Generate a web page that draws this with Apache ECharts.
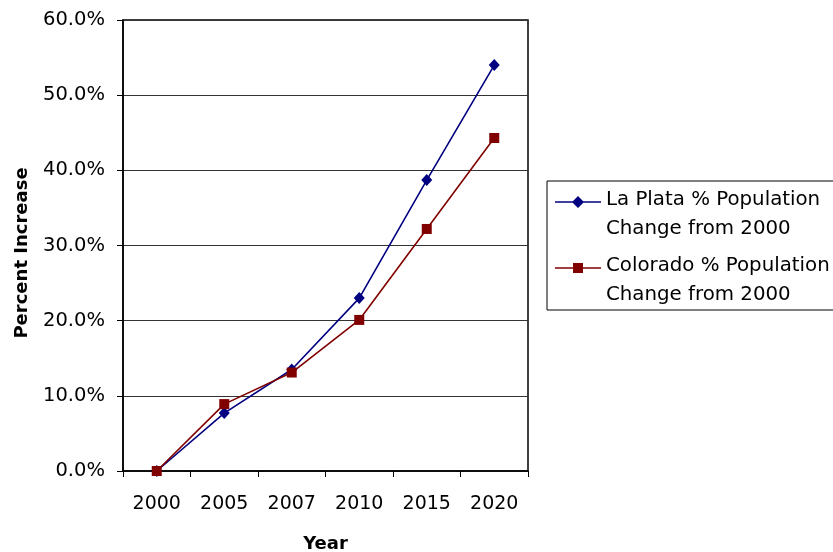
<!DOCTYPE html>
<html>
<head>
<meta charset="utf-8">
<script src="https://cdn.jsdelivr.net/npm/echarts@6/dist/echarts.min.js"></script>
<style>
html, body { margin: 0; padding: 0; background: #fff; }
#chart { width: 833px; height: 552px; }
</style>
</head>
<body>
<div id="chart"></div>
<script>
// data
var years = ['2000', '2005', '2007', '2010', '2015', '2020'];
var laPlata = [0.0, 7.7, 13.5, 23.0, 38.7, 54.0];
var colorado = [0.0, 8.9, 13.1, 20.1, 32.2, 44.3];
var seriesNames = ['La Plata % Population Change from 2000', 'Colorado % Population Change from 2000'];

var font = 'DejaVu Sans, Liberation Sans, sans-serif';
var blue = '#000080';
var red = '#800000';

// legend icons: line + marker sitting on the first text line of a two line item
var corners = 'M0,0 L0.05,0 L0.05,0.05 Z M45.95,56.95 L46,57 L45.95,57 Z ';
var diamondIcon = 'path://' + corners + 'M0,15.2 L46,15.2 L46,16.8 L0,16.8 Z M23,10 L29,16 L23,22 L17,16 Z';
var squareIcon = 'path://' + corners + 'M0,15.2 L46,15.2 L46,16.8 L0,16.8 Z M18,11 L28,11 L28,21 L18,21 Z';

var chart = echarts.init(document.getElementById('chart'));

var option = {
    animation: false,
    backgroundColor: '#fff',
    grid: {
        left: 123,
        right: 305,
        top: 20,
        bottom: 81,
        outerBoundsMode: 'none',
        show: true,
        borderColor: '#000',
        borderWidth: 1.5
    },
    legend: {
        orient: 'vertical',
        left: 547,
        top: 181,
        borderColor: '#000',
        borderWidth: 1,
        padding: [5, 14, 1, 8],
        itemGap: 9,
        itemWidth: 46,
        itemHeight: 57,
        itemTextGap: 6,
        data: [
            { name: seriesNames[0], icon: diamondIcon, itemStyle: { color: blue } },
            { name: seriesNames[1], icon: squareIcon, itemStyle: { color: red } }
        ],
        formatter: function (name) {
            return name.replace(' Change', '\nChange');
        },
        textStyle: {
            fontFamily: font,
            fontSize: 19.8,
            color: '#000',
            lineHeight: 28.5
        }
    },
    xAxis: {
        type: 'category',
        data: years,
        boundaryGap: true,
        name: 'Year',
        nameLocation: 'middle',
        nameGap: 64,
        nameTextStyle: { fontFamily: font, fontSize: 18, fontWeight: 'bold', color: '#000' },
        axisLine: { lineStyle: { color: '#000', width: 1.5 } },
        axisTick: { show: true, length: 6, lineStyle: { color: '#000' } },
        axisLabel: { margin: 24, fontFamily: font, fontSize: 19, color: '#000' },
        splitLine: { show: false }
    },
    yAxis: {
        type: 'value',
        min: 0,
        max: 60,
        interval: 10,
        name: 'Percent Increase',
        nameLocation: 'middle',
        nameGap: 92,
        nameTextStyle: { fontFamily: font, fontSize: 18, fontWeight: 'bold', color: '#000', padding: [0, 15, 0, 0] },
        axisLine: { show: true, lineStyle: { color: '#000', width: 1.5 } },
        axisTick: { show: true, length: 6, lineStyle: { color: '#000' } },
        axisLabel: {
            margin: 18,
            fontFamily: font,
            fontSize: 19.5,
            color: '#000',
            formatter: function (v) { return v.toFixed(1) + '%'; }
        },
        splitLine: { show: true, lineStyle: { color: '#333', width: 1 } }
    },
    series: [
        {
            name: seriesNames[0],
            type: 'line',
            data: laPlata,
            symbol: 'diamond',
            symbolSize: [11, 12],
            color: blue,
            lineStyle: { color: blue, width: 1.6 },
            itemStyle: { color: blue }
        },
        {
            name: seriesNames[1],
            type: 'line',
            data: colorado,
            symbol: 'rect',
            symbolSize: 10,
            color: red,
            lineStyle: { color: red, width: 1.6 },
            itemStyle: { color: red }
        }
    ]
};
chart.setOption(option);
</script>
</body>
</html>
